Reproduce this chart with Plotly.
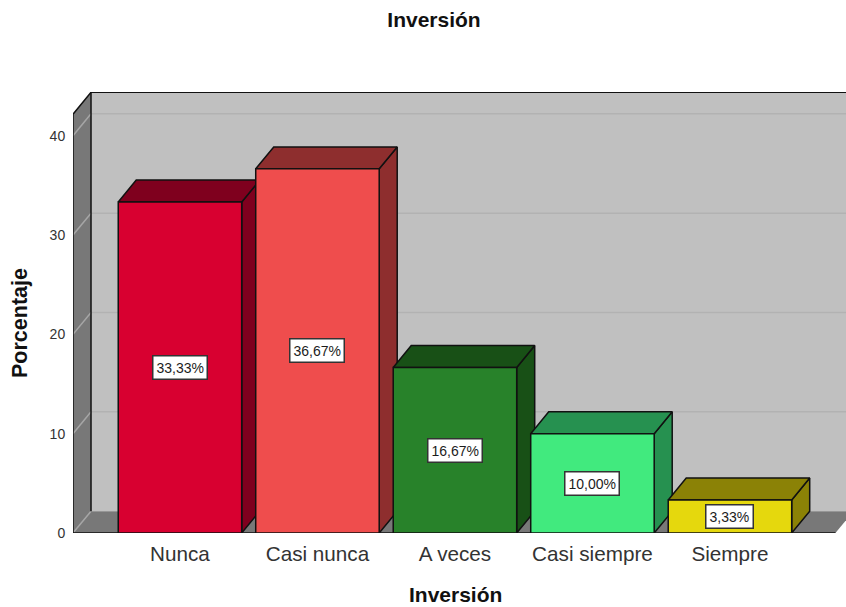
import plotly.graph_objects as go

# Data
categories = ["Nunca", "Casi nunca", "A veces", "Casi siempre", "Siempre"]
values = [33.33, 36.67, 16.67, 10.00, 3.33]
labels = ["33,33%", "36,67%", "16,67%", "10,00%", "3,33%"]
y_ticks = [0, 10, 20, 30, 40]

# Style
front_colors = ["#D80030", "#EF4D4D", "#28822A", "#41EA7E", "#E5D80D"]
depth_colors = ["#7F001E", "#8E2E2E", "#185016", "#269150", "#8B8206"]
FONT = "Liberation Sans"
INK = "#1c1c1c"
EDGE = "#111111"
BAR_W = 0.898
DX, DY = 0.131, 2.2           # oblique depth offset in axis units
XMIN, XMAX = -0.778, 4.844
YMAX = 44.4
WALL_TOP = 42.17              # front edge of the left wall
FLOOR_END = 4.767             # front right corner of the floor
WIDTH, HEIGHT = 846, 607

positions = list(range(len(categories)))
fig = go.Figure()

# Depth faces of each bar, on the primary axes, under the front faces
for i, (p, v) in enumerate(zip(positions, values)):
    l, r = p - BAR_W / 2, p + BAR_W / 2
    fig.add_trace(go.Scatter(
        x=[r, r + DX, r + DX, r, r], y=[0, DY, v + DY, v, 0],
        mode="lines", fill="toself", fillcolor=depth_colors[i],
        line=dict(color=EDGE, width=1.5), hoverinfo="skip", showlegend=False))
    fig.add_trace(go.Scatter(
        x=[l, l + DX, r + DX, r, l], y=[v, v + DY, v + DY, v, v],
        mode="lines", fill="toself", fillcolor=depth_colors[i],
        line=dict(color=EDGE, width=1.5), hoverinfo="skip", showlegend=False))

# Front faces, on overlaid axes so they cover the neighbouring depth faces
fig.add_trace(go.Bar(
    x=positions, y=values, width=BAR_W, xaxis="x2", yaxis="y2",
    marker=dict(color=front_colors, line=dict(color=EDGE, width=1.5)),
    cliponaxis=False, hoverinfo="x+y", showlegend=False))

# Walls and floor
wall_x0 = XMIN
wall_back = XMIN + DX
edge_line = dict(color=EDGE, width=1.5)
shapes = [
    dict(type="path", layer="below", line=dict(width=0), fillcolor="#C0C0C0",
         path=f"M{wall_back},{DY} L{wall_back},{WALL_TOP + DY} L{XMAX + 1},{WALL_TOP + DY} L{XMAX + 1},{DY} Z"),
    dict(type="path", layer="below", line=dict(width=0), fillcolor="#787878",
         path=f"M{wall_x0},0 L{wall_back},{DY} L{wall_back},{WALL_TOP + DY} L{wall_x0},{WALL_TOP} Z"),
    dict(type="path", layer="below", line=dict(width=0), fillcolor="#787878",
         path=f"M{wall_x0},0 L{wall_back},{DY} L{FLOOR_END + DX},{DY} L{FLOOR_END},0 Z"),
    dict(type="line", layer="below", x0=wall_x0, x1=wall_back, y0=0, y1=DY,
         line=dict(color="#A6A6A6", width=1.5)),
]
for t in y_ticks[1:]:
    shapes.append(dict(type="line", layer="below", x0=wall_back, x1=XMAX + 1, y0=t + DY, y1=t + DY,
                       line=dict(color="#B2B2B2", width=1.5)))
    shapes.append(dict(type="line", layer="below", x0=wall_x0, x1=wall_back, y0=t, y1=t + DY,
                       line=dict(color="#A6A6A6", width=1.5)))
# Wall outlines
shapes += [
    dict(type="path", layer="below", line=edge_line,
         path=f"M{wall_x0},0 L{wall_x0},{WALL_TOP} L{wall_back},{WALL_TOP + DY} L{XMAX + 1},{WALL_TOP + DY}"),
    dict(type="line", layer="below", x0=wall_back, x1=wall_back, y0=DY, y1=WALL_TOP + DY, line=edge_line),
    dict(type="line", layer="below", x0=wall_x0, x1=FLOOR_END, y0=0, y1=0, line=edge_line),
]

annotations = [
    dict(x=p, y=v / 2, xref="x", yref="y", text=t, showarrow=False,
         font=dict(family=FONT, size=14, color=INK), bgcolor="#FFFFFF",
         bordercolor="#333333", borderwidth=1.5, borderpad=3)
    for p, v, t in zip(positions, values, labels)
]
# Axis titles sit off-centre from the plot area in the reference
title_font = dict(family=FONT, size=21, color="#111111")
annotations += [
    dict(x=455, y=HEIGHT - 594.5, xref="paper", yref="paper", text="<b>Inversión</b>", showarrow=False,
         font=title_font, xanchor="center", yanchor="middle"),
    dict(x=20, y=HEIGHT - 323, xref="paper", yref="paper", text="<b>Porcentaje</b>", showarrow=False,
         font=dict(family=FONT, size=21.5, color="#111111"), textangle=-90,
         xanchor="center", yanchor="middle"),
]
plot_w, plot_h = WIDTH - 73, HEIGHT - 92 - 74
for a in annotations[-2:]:
    a["x"] = (a["x"] - 73) / plot_w
    a["y"] = (a["y"] - 74) / plot_h

axis_common = dict(showgrid=False, zeroline=False, showline=False)
fig.update_layout(
    width=WIDTH, height=HEIGHT, autosize=False,
    margin=dict(l=73, r=0, t=92, b=74),
    paper_bgcolor="#FFFFFF", plot_bgcolor="#FFFFFF",
    showlegend=False, shapes=shapes, annotations=annotations,
    font=dict(family=FONT, color=INK),
    title=dict(text="<b>Inversión</b>", font=title_font,
               x=434 / WIDTH, xref="container", xanchor="center",
               y=1 - 20 / HEIGHT, yref="container", yanchor="middle"),
    xaxis=dict(range=[XMIN, XMAX], tickmode="array", tickvals=positions, ticktext=categories,
               ticks="outside", ticklen=2, tickcolor="rgba(0,0,0,0)",
               tickfont=dict(family=FONT, size=20.7, color="#333333"),
               **axis_common),
    yaxis=dict(range=[0, YMAX], tickmode="array", tickvals=y_ticks,
               ticks="outside", ticklen=4, tickcolor="rgba(0,0,0,0)",
               tickfont=dict(family=FONT, size=14, color="#333333"),
               **axis_common),
    xaxis2=dict(range=[XMIN, XMAX], overlaying="x", visible=False),
    yaxis2=dict(range=[0, YMAX], overlaying="y", visible=False),
)

fig.write_html("out.html", config={"displayModeBar": False},
               post_script="document.body.style.margin='0';")
